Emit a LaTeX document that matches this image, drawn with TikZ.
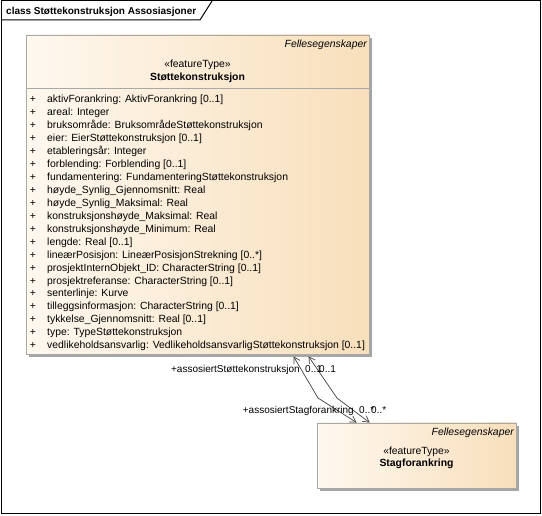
\documentclass[tikz,border=0pt]{standalone}
\usepackage{fontspec}
\setmainfont{Liberation Sans}
\usetikzlibrary{arrows.meta,shadows,calc}
\definecolor{boxl}{RGB}{254,248,239}
\definecolor{boxr}{RGB}{248,223,187}
\definecolor{boxborder}{RGB}{168,168,168}
\definecolor{shadowc}{RGB}{165,165,165}
\begin{document}
\begin{tikzpicture}[x=1pt,y=-1pt,
  classbox/.style={draw=boxborder, line width=0.9pt, left color=boxl, right color=boxr,
    inner sep=0, drop shadow={shadow xshift=3pt,shadow yshift=-3pt,fill=shadowc,opacity=1}},
  txt/.style={inner sep=0, font=\fontsize{10.4}{12}\selectfont, text height=8.5pt, text depth=1pt},
  boldtxt/.style={txt, font=\fontsize{10.4}{12}\selectfont\bfseries},
  itxt/.style={txt, font=\fontsize{10.4}{12}\selectfont\itshape},
  lbltxt/.style={txt, font=\fontsize{10}{12}\selectfont},
  assoc/.style={line width=0.7pt, draw=black!75, {Straight Barb[length=6pt,width=7pt]}-{Straight Barb[length=6pt,width=7pt]}},
]
\useasboundingbox (0,0) rectangle (542,516);
% frame
\draw[line width=1pt] (1,1) rectangle (540.5,513.5);
\draw[line width=1pt] (1,20) -- (200,20) -- (212,1);
\node[txt, font=\fontsize{10}{12}\selectfont\bfseries, anchor=west] (title) at (6,11) {class Støttekonstruksjon Assosiasjoner};

% Stottekonstruksjon
\node[classbox, minimum width=343pt, minimum height=319pt] (stotte) at (197.5,194.5) {};
\draw[draw=boxborder, line width=0.9pt] (26,88) -- (369,88);
\node[itxt, anchor=east] (sfelles) at (367,44) {Fellesegenskaper};
\node[txt] (sster) at (197.5,64) {«featureType»};
\node[boldtxt] (sname) at (197.5,77) {Støttekonstruksjon};
\foreach \t [count=\i] in {
  aktivForankring: AktivForankring [0..1],
  areal: Integer,
  bruksområde: BruksområdeStøttekonstruksjon,
  eier: EierStøttekonstruksjon [0..1],
  etableringsår: Integer,
  forblending: Forblending [0..1],
  fundamentering: FundamenteringStøttekonstruksjon,
  høyde\_Synlig\_Gjennomsnitt: Real,
  høyde\_Synlig\_Maksimal: Real,
  konstruksjonshøyde\_Maksimal: Real,
  konstruksjonshøyde\_Minimum: Real,
  lengde: Real [0..1],
  lineærPosisjon: LineærPosisjonStrekning [0..*],
  prosjektInternObjekt\_ID: CharacterString [0..1],
  prosjektreferanse: CharacterString [0..1],
  senterlinje: Kurve,
  tilleggsinformasjon: CharacterString [0..1],
  tykkelse\_Gjennomsnitt: Real [0..1],
  type: TypeStøttekonstruksjon,
  vedlikeholdsansvarlig: VedlikeholdsansvarligStøttekonstruksjon [0..1]} {
  \node[txt] (p\i) at (33,{99+(\i-1)*12.95}) {+};
  \node[txt, anchor=west] (a\i) at (47,{99+(\i-1)*12.95}) {\t};
}

% Stagforankring
\node[classbox, minimum width=199pt, minimum height=65pt] (stag) at (416.5,455.5) {};
\node[itxt, anchor=east] (gfelles) at (514,432) {Fellesegenskaper};
\node[txt] (gster) at (416.5,451) {«featureType»};
\node[boldtxt] (gname) at (416.5,463) {Stagforankring};

% associations
\coordinate (t1) at ($(stotte.south west)+(268,2)$);
\coordinate (t2) at ($(stotte.south west)+(283,2)$);
\coordinate (b1) at ($(stag.north west)+(40,0)$);
\coordinate (b2) at ($(stag.north west)+(53,0)$);
\coordinate (k1) at (318,398);
\coordinate (k2) at (337,398);
\draw[assoc] (t1) -- (k1) -- (b1);
\draw[assoc] (t2) -- (k2) -- (b2);

\node[lbltxt, anchor=east] (r1) at (300,369) {+assosiertStøttekonstruksjon};
\node[lbltxt, anchor=west] (m1) at (305,369) {0..1};
\node[lbltxt, anchor=west] (m2) at (319,369) {0..1};
\node[lbltxt, anchor=east] (r2) at (354,410) {+assosiertStagforankring};
\node[lbltxt, anchor=west] (m3) at (359,410) {0..*};
\node[lbltxt, anchor=west] (m4) at (371,410) {0..*};
\end{tikzpicture}
\end{document}
